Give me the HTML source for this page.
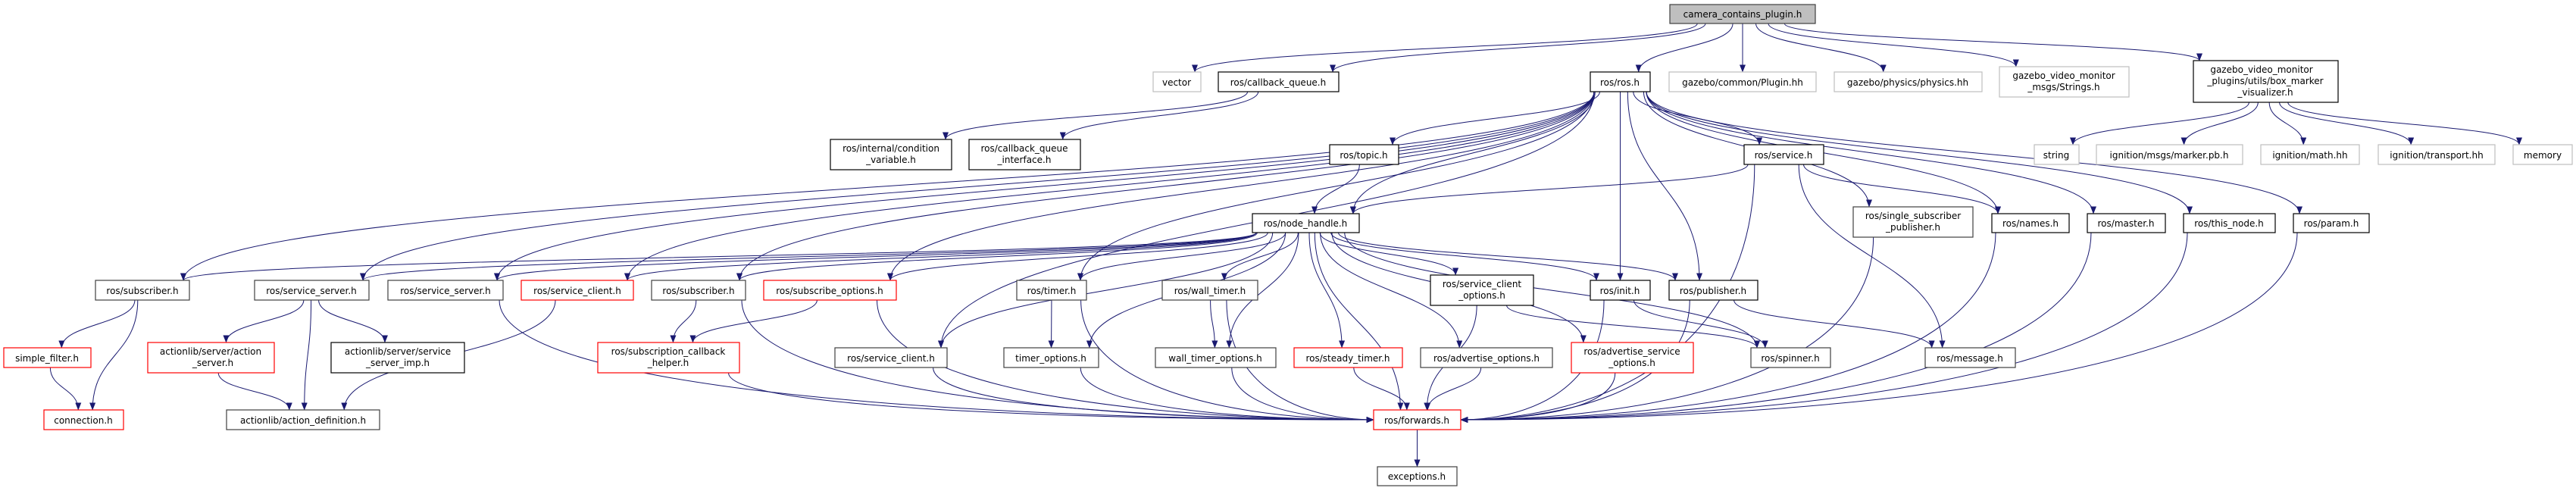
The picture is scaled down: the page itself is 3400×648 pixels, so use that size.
<!DOCTYPE html>
<html><head><meta charset="utf-8"><style>
html,body{margin:0;padding:0;background:#fff;width:3400px;height:648px;overflow:hidden}
svg text{font-family:"DejaVu Sans","Liberation Sans",sans-serif;font-size:12px;fill:#000;text-anchor:middle}
</style></head><body>
<svg id="g" width="3400" height="648" viewBox="0 0 3400 648" xmlns="http://www.w3.org/2000/svg">
<defs><marker id="ah" markerWidth="10" markerHeight="8" refX="9.5" refY="4" orient="auto" markerUnits="userSpaceOnUse"><path d="M0,0 L10,4 L0,8 z" fill="#191970"/></marker></defs>
<g id="edges" fill="none" stroke="#191970" stroke-width="1"></g>
<g id="nodes" stroke-width="1.2">
<rect id="root" x="2204" y="6" width="192" height="25" fill="#bfbfbf" stroke="#404040"/><text x="2300" y="23">camera_contains_plugin.h</text>
<rect id="vector" x="1522" y="95" width="63" height="26" fill="#fff" stroke="#bfbfbf"/><text x="1553" y="113">vector</text>
<rect id="cbq" x="1608" y="95" width="159" height="26" fill="#fff" stroke="#000"/><text x="1687" y="113">ros/callback_queue.h</text>
<rect id="ros" x="2099" y="95" width="79" height="26" fill="#fff" stroke="#000"/><text x="2138" y="113">ros/ros.h</text>
<rect id="plugin" x="2203" y="95" width="194" height="26" fill="#fff" stroke="#bfbfbf"/><text x="2300" y="113">gazebo/common/Plugin.hh</text>
<rect id="physics" x="2421" y="95" width="195" height="26" fill="#fff" stroke="#bfbfbf"/><text x="2518" y="113">gazebo/physics/physics.hh</text>
<rect id="strings" x="2639" y="88" width="171" height="40" fill="#fff" stroke="#bfbfbf"/><text x="2724" y="104">gazebo_video_monitor</text><text x="2724" y="119">_msgs/Strings.h</text>
<rect id="box" x="2895" y="80" width="191" height="55" fill="#fff" stroke="#000"/><text x="2985" y="96">gazebo_video_monitor</text><text x="2990" y="111">_plugins/utils/box_marker</text><text x="2990" y="126">_visualizer.h</text>
<rect id="condvar" x="1096" y="184" width="160" height="40" fill="#fff" stroke="#000"/><text x="1176" y="200">ros/internal/condition</text><text x="1176" y="215">_variable.h</text>
<rect id="cbqi" x="1279" y="184" width="147" height="40" fill="#fff" stroke="#000"/><text x="1352" y="200">ros/callback_queue</text><text x="1352" y="215">_interface.h</text>
<rect id="topic" x="1755" y="191" width="91" height="26" fill="#fff" stroke="#000"/><text x="1800" y="209">ros/topic.h</text>
<rect id="service" x="2302" y="191" width="105" height="26" fill="#fff" stroke="#000"/><text x="2354" y="209">ros/service.h</text>
<rect id="string" x="2685" y="191" width="59" height="26" fill="#fff" stroke="#bfbfbf"/><text x="2714" y="209">string</text>
<rect id="marker" x="2767" y="191" width="193" height="26" fill="#fff" stroke="#bfbfbf"/><text x="2863" y="209">ignition/msgs/marker.pb.h</text>
<rect id="math" x="2984" y="191" width="130" height="26" fill="#fff" stroke="#bfbfbf"/><text x="3049" y="209">ignition/math.hh</text>
<rect id="transport" x="3139" y="191" width="154" height="26" fill="#fff" stroke="#bfbfbf"/><text x="3216" y="209">ignition/transport.hh</text>
<rect id="memory" x="3317" y="191" width="78" height="26" fill="#fff" stroke="#bfbfbf"/><text x="3356" y="209">memory</text>
<rect id="nh" x="1653" y="282" width="141" height="25" fill="#fff" stroke="#000"/><text x="1723" y="299">ros/node_handle.h</text>
<rect id="ssp" x="2446" y="273" width="158" height="40" fill="#fff" stroke="#404040"/><text x="2525" y="289">ros/single_subscriber</text><text x="2525" y="304">_publisher.h</text>
<rect id="names" x="2629" y="282" width="102" height="25" fill="#fff" stroke="#000"/><text x="2680" y="299">ros/names.h</text>
<rect id="master" x="2755" y="282" width="103" height="25" fill="#fff" stroke="#000"/><text x="2806" y="299">ros/master.h</text>
<rect id="thisnode" x="2882" y="282" width="121" height="25" fill="#fff" stroke="#000"/><text x="2942" y="299">ros/this_node.h</text>
<rect id="param" x="3027" y="282" width="100" height="25" fill="#fff" stroke="#000"/><text x="3077" y="299">ros/param.h</text>
<rect id="sub1" x="126" y="370" width="124" height="26" fill="#fff" stroke="#404040"/><text x="188" y="388">ros/subscriber.h</text>
<rect id="ss1" x="336" y="370" width="151" height="26" fill="#fff" stroke="#404040"/><text x="411" y="388">ros/service_server.h</text>
<rect id="ss2" x="512" y="370" width="152" height="26" fill="#fff" stroke="#404040"/><text x="588" y="388">ros/service_server.h</text>
<rect id="scred" x="688" y="370" width="148" height="26" fill="#fff" stroke="#ff0000"/><text x="762" y="388">ros/service_client.h</text>
<rect id="sub2" x="860" y="370" width="124" height="26" fill="#fff" stroke="#404040"/><text x="922" y="388">ros/subscriber.h</text>
<rect id="subopt" x="1008" y="370" width="175" height="26" fill="#fff" stroke="#ff0000"/><text x="1095" y="388">ros/subscribe_options.h</text>
<rect id="timer" x="1342" y="370" width="92" height="26" fill="#fff" stroke="#404040"/><text x="1388" y="388">ros/timer.h</text>
<rect id="wtimer" x="1534" y="370" width="126" height="26" fill="#fff" stroke="#404040"/><text x="1597" y="388">ros/wall_timer.h</text>
<rect id="sco" x="1888" y="363" width="136" height="40" fill="#fff" stroke="#000"/><text x="1956" y="379">ros/service_client</text><text x="1956" y="394">_options.h</text>
<rect id="init" x="2099" y="370" width="79" height="26" fill="#fff" stroke="#000"/><text x="2138" y="388">ros/init.h</text>
<rect id="pub" x="2203" y="370" width="117" height="26" fill="#fff" stroke="#000"/><text x="2261" y="388">ros/publisher.h</text>
<rect id="sf" x="5" y="459" width="115" height="26" fill="#fff" stroke="#ff0000"/><text x="62" y="477">simple_filter.h</text>
<rect id="as" x="195" y="452" width="167" height="40" fill="#fff" stroke="#ff0000"/><text x="278" y="468">actionlib/server/action</text><text x="281" y="483">_server.h</text>
<rect id="ssi" x="437" y="452" width="176" height="40" fill="#fff" stroke="#000"/><text x="525" y="468">actionlib/server/service</text><text x="525" y="483">_server_imp.h</text>
<rect id="sch" x="789" y="452" width="187" height="40" fill="#fff" stroke="#ff0000"/><text x="882" y="468">ros/subscription_callback</text><text x="882" y="483">_helper.h</text>
<rect id="sc5" x="1102" y="459" width="148" height="26" fill="#fff" stroke="#404040"/><text x="1176" y="477">ros/service_client.h</text>
<rect id="to" x="1325" y="459" width="125" height="26" fill="#fff" stroke="#404040"/><text x="1387" y="477">timer_options.h</text>
<rect id="wto" x="1525" y="459" width="159" height="26" fill="#fff" stroke="#404040"/><text x="1604" y="477">wall_timer_options.h</text>
<rect id="steady" x="1708" y="459" width="143" height="26" fill="#fff" stroke="#ff0000"/><text x="1779" y="477">ros/steady_timer.h</text>
<rect id="ao" x="1875" y="459" width="174" height="26" fill="#fff" stroke="#404040"/><text x="1962" y="477">ros/advertise_options.h</text>
<rect id="aso" x="2074" y="452" width="161" height="40" fill="#fff" stroke="#ff0000"/><text x="2154" y="468">ros/advertise_service</text><text x="2154" y="483">_options.h</text>
<rect id="spinner" x="2311" y="459" width="105" height="26" fill="#fff" stroke="#404040"/><text x="2363" y="477">ros/spinner.h</text>
<rect id="msg" x="2541" y="459" width="119" height="26" fill="#fff" stroke="#404040"/><text x="2600" y="477">ros/message.h</text>
<rect id="conn" x="58" y="541" width="105" height="26" fill="#fff" stroke="#ff0000"/><text x="110" y="559">connection.h</text>
<rect id="ad" x="299" y="541" width="202" height="26" fill="#fff" stroke="#404040"/><text x="400" y="559">actionlib/action_definition.h</text>
<rect id="fw" x="1813" y="541" width="115" height="26" fill="#fff" stroke="#ff0000"/><text x="1870" y="559">ros/forwards.h</text>
<rect id="exc" x="1818" y="616" width="105" height="25" fill="#fff" stroke="#404040"/><text x="1870" y="633">exceptions.h</text>
</g>
</svg>
<script>
(function(){
var E=[["root","vector"],["root","cbq"],["root","ros"],["root","plugin"],["root","physics"],["root","strings"],["root","box"],
["cbq","condvar"],["cbq","cbqi"],
["ros","sub1"],["ros","ss1"],["ros","ss2"],["ros","scred"],["ros","sub2"],["ros","subopt"],["ros","topic"],["ros","nh"],["ros","service"],["ros","init"],["ros","pub"],["ros","ssp"],["ros","names"],["ros","master"],["ros","thisnode"],["ros","param"],["ros","timer"],["ros","sc5"],
["box","string"],["box","marker"],["box","math"],["box","transport"],["box","memory"],
["topic","nh"],["service","nh"],["service","names"],["service","msg"],["service","fw"],
["nh","sub1"],["nh","ss1"],["nh","ss2"],["nh","scred"],["nh","sub2"],["nh","subopt"],["nh","sc5"],["nh","timer"],["nh","to"],["nh","wtimer"],["nh","wto"],["nh","steady"],["nh","ao"],["nh","aso"],["nh","sco"],["nh","init"],["nh","pub"],["nh","spinner"],["nh","fw"],
["sub1","sf"],["sub1","conn"],["sf","conn"],["ss1","as"],["ss1","ad"],["ss1","ssi"],["as","ad"],["scred","ad"],
["ss2","fw"],["sub2","sch"],["sub2","fw"],["subopt","sch"],["subopt","fw"],["sch","fw"],["sc5","fw"],["timer","to"],["timer","fw"],["to","fw"],["wtimer","wto"],["wtimer","fw"],["wto","fw"],["steady","fw"],["ao","fw"],["aso","fw"],["sco","spinner"],["sco","fw"],["init","spinner"],["init","fw"],["pub","msg"],["pub","fw"],["ssp","fw"],["names","fw"],["master","fw"],["thisnode","fw"],["param","fw"],["fw","exc"]];
var ns="http://www.w3.org/2000/svg",g=document.getElementById("edges");
function b(id){var r=document.getElementById(id);return {x:+r.getAttribute("x"),y:+r.getAttribute("y"),w:+r.getAttribute("width"),h:+r.getAttribute("height")};}
E.forEach(function(e){var s=b(e[0]),t=b(e[1]);
var sx=s.x+s.w/2,sy=s.y+s.h,tx=t.x+t.w/2,ty=t.y,d;
var dx=tx-sx;
var tSide=false;
sx+=Math.max(-s.w/2+5,Math.min(s.w/2-5,dx*0.08));
if(e[1]=="fw" && Math.abs(dx)>250){tSide=true;ty=t.y+t.h/2;tx=dx>0?t.x:t.x+t.w;}
else tx-=Math.max(-t.w/2+8,Math.min(t.w/2-8,dx*0.15));
if(tSide){
 d="M"+sx+","+sy+" C"+sx+","+(sy+(ty-sy)*0.8)+" "+(tx-(tx-sx)*0.4)+","+ty+" "+tx+","+ty;
}else{var dy=(ty-sy)*0.5;
 d="M"+sx+","+sy+" C"+sx+","+(sy+dy)+" "+tx+","+(ty-dy)+" "+tx+","+ty;}
var p=document.createElementNS(ns,"path");p.setAttribute("d",d);p.setAttribute("marker-end","url(#ah)");g.appendChild(p);});
})();
</script>
</body></html>
